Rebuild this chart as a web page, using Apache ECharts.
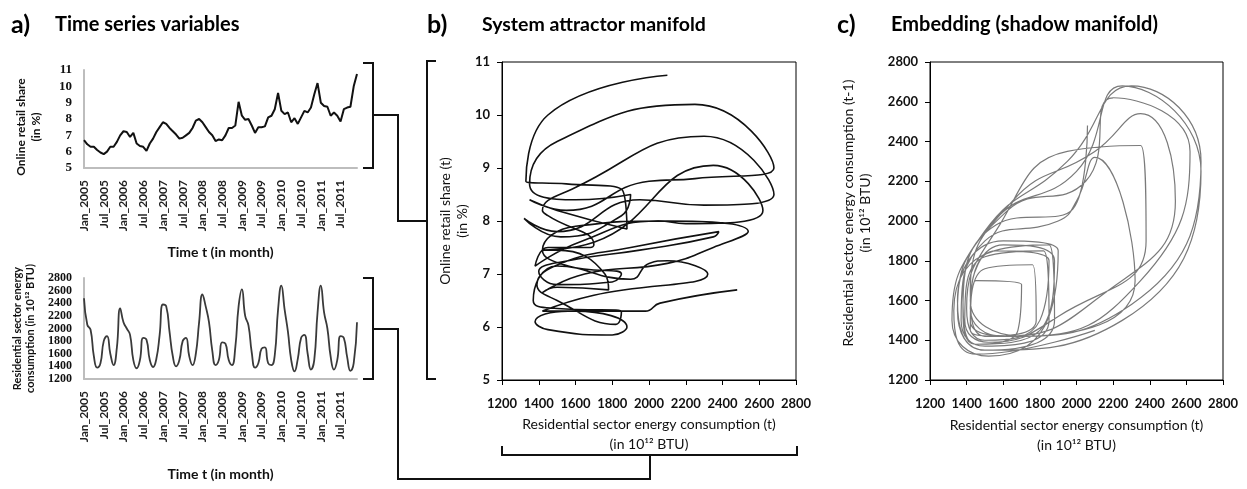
<!DOCTYPE html>
<html>
<head>
<meta charset="utf-8">
<script src="https://cdn.jsdelivr.net/npm/echarts@6/dist/echarts.min.js"></script>
<style>
  html, body { margin: 0; padding: 0; background: #fff; }
  #chart { width: 1247px; height: 489px; }
</style>
</head>
<body>
<div id="chart"></div>
<script>
// Monthly observations, Jan 2005 – Dec 2011
const years = [2005, 2006, 2007, 2008, 2009, 2010, 2011];
const monthNames = ['Jan', 'Feb', 'Mar', 'Apr', 'May', 'Jun', 'Jul', 'Aug', 'Sep', 'Oct', 'Nov', 'Dec'];
const months = years.flatMap(y => monthNames.map(m => m + '_' + y));

// Online retail share (in %)
const retailShare = [
  6.70, 6.45, 6.30, 6.30, 6.10, 5.95, 5.85, 6.00, 6.30, 6.30, 6.60, 7.00,
  7.25, 7.20, 6.90, 7.15, 6.50, 6.35, 6.30, 6.05, 6.50, 6.80, 7.20, 7.50,
  7.80, 7.70, 7.45, 7.25, 7.05, 6.80, 6.85, 7.00, 7.15, 7.45, 7.90, 8.00,
  7.80, 7.50, 7.20, 7.00, 6.65, 6.75, 6.70, 7.00, 7.45, 7.45, 7.60, 9.05,
  8.20, 7.95, 8.00, 7.60, 7.15, 7.50, 7.50, 7.55, 8.10, 8.20, 8.60, 9.60,
  8.50, 8.30, 8.40, 7.80, 8.05, 7.70, 8.10, 8.50, 8.40, 8.70, 9.50, 10.20,
  9.00, 8.80, 8.75, 8.20, 8.40, 8.20, 7.85, 8.60, 8.70, 8.75, 10.00, 10.75
];

// Residential sector energy consumption (in 10^12 BTU)
const energy = [
  2480, 2060, 1980, 1560, 1380, 1450, 1800, 1880, 1600, 1420, 1700, 2320,
  2100, 2000, 1900, 1500, 1370, 1500, 1850, 1820, 1500, 1390, 1520, 1900,
  2380, 2350, 1950, 1560, 1400, 1500, 1800, 1850, 1560, 1420, 1600, 2100,
  2540, 2350, 2100, 1650, 1420, 1500, 1780, 1760, 1500, 1420, 1700, 2350,
  2620, 2200, 2050, 1620, 1380, 1450, 1680, 1700, 1450, 1420, 1580, 2300,
  2680, 2300, 1950, 1500, 1320, 1520, 1850, 1900, 1600, 1350, 1500, 2250,
  2680, 2250, 2000, 1550, 1350, 1500, 1880, 1850, 1550, 1330, 1450, 2100
];

// Axis tick settings
const shareTicks = { min: 5, max: 11, interval: 1 };
const energyTicks = { min: 1200, max: 2800, interval: 200 };

// Derived pairs: (energy, share) and lagged (energy(t), energy(t-1))
const attractor = energy.map((e, i) => [e, retailShare[i]]);
const shadow = energy.slice(1).map((e, i) => [e, energy[i]]);

const sans = 'Lato, "Open Sans", sans-serif';
const serif = '"Liberation Serif", serif';
const plain = v => String(v);
const lightAxis = { show: true, lineStyle: { color: '#bdbdbd', width: 2 } };
const blackAxis = { show: true, lineStyle: { color: '#000', width: 1 } };
const outTicks = { show: true, inside: false, length: 5, lineStyle: { color: '#000' } };
const allLabels = { showMinLabel: true, showMaxLabel: true, hideOverlap: false };

const chart = echarts.init(document.getElementById('chart'), null, { renderer: 'canvas' });

const bracket = (points) => ({
  type: 'polyline', silent: true,
  shape: { points },
  style: { stroke: '#111', lineWidth: 2, fill: null }
});
const title = (x, y, text, size) => ({
  type: 'text', left: x, top: y, silent: true,
  style: { text, font: 'bold ' + size + 'px ' + sans, fill: '#000' }
});

chart.setOption({
  animation: false,
  backgroundColor: '#fff',
  grid: [
    { left: 84, top: 70, width: 273, height: 98 },
    { left: 84, top: 278, width: 273, height: 101 },
    { left: 502, top: 62, width: 294, height: 318, show: true, borderColor: '#000', borderWidth: 1 },
    { left: 930, top: 62, width: 293, height: 318, show: true, borderColor: '#000', borderWidth: 1 }
  ],
  xAxis: [
    {
      gridIndex: 0, type: 'category', data: months, boundaryGap: false,
      axisLine: lightAxis, axisTick: { show: false },
      axisLabel: { interval: 5, rotate: 90, margin: 12, fontFamily: sans, fontSize: 12, fontWeight: 'bold', color: '#222' },
      name: 'Time t (in month)', nameLocation: 'middle', nameGap: 77,
      nameTextStyle: { fontFamily: sans, fontSize: 14, fontWeight: 'bold', color: '#111' }
    },
    {
      gridIndex: 1, type: 'category', data: months, boundaryGap: false,
      axisLine: lightAxis, axisTick: { show: false },
      axisLabel: { interval: 5, rotate: 90, margin: 12, fontFamily: sans, fontSize: 12, fontWeight: 'bold', color: '#222' },
      name: 'Time t (in month)', nameLocation: 'middle', nameGap: 88,
      nameTextStyle: { fontFamily: sans, fontSize: 14, fontWeight: 'bold', color: '#111' }
    },
    {
      gridIndex: 2, type: 'value', ...energyTicks,
      axisLine: blackAxis, axisTick: outTicks, splitLine: { show: false },
      axisLabel: { ...allLabels, margin: 17, formatter: plain, fontFamily: sans, fontSize: 13, fontWeight: 'bold', color: '#111' },
      name: 'Residential sector energy consumption (t)\n(in 10¹² BTU)', nameLocation: 'middle', nameGap: 33,
      nameTextStyle: { fontFamily: sans, fontSize: 14, color: '#111', lineHeight: 20 }
    },
    {
      gridIndex: 3, type: 'value', ...energyTicks,
      axisLine: blackAxis, axisTick: outTicks, splitLine: { show: false },
      axisLabel: { ...allLabels, margin: 17, formatter: plain, fontFamily: sans, fontSize: 13, fontWeight: 'bold', color: '#111' },
      name: 'Residential sector energy consumption (t)\n(in 10¹² BTU)', nameLocation: 'middle', nameGap: 35,
      nameTextStyle: { fontFamily: sans, fontSize: 14, color: '#111', lineHeight: 20 }
    }
  ],
  yAxis: [
    {
      gridIndex: 0, type: 'value', ...shareTicks,
      axisLine: lightAxis, axisTick: { show: false }, splitLine: { show: false },
      axisLabel: { ...allLabels, margin: 12, fontFamily: serif, fontSize: 13, fontWeight: 'bold', color: '#111' },
      name: 'Online retail share\n(in %)', nameLocation: 'middle', nameRotate: 90, nameGap: 40,
      nameTextStyle: { fontFamily: sans, fontSize: 12, fontWeight: 'bold', color: '#111', lineHeight: 15, padding: [0, 16, 0, 0] }
    },
    {
      gridIndex: 1, type: 'value', ...energyTicks,
      axisLine: lightAxis, axisTick: { show: false }, splitLine: { show: false },
      axisLabel: { ...allLabels, margin: 12, formatter: plain, fontFamily: serif, fontSize: 12, fontWeight: 'bold', color: '#111' },
      name: 'Residential sector energy\nconsumption (in 10¹² BTU)', nameLocation: 'middle', nameRotate: 90, nameGap: 47,
      nameTextStyle: { fontFamily: sans, fontSize: 11, fontWeight: 'bold', color: '#111', lineHeight: 13 }
    },
    {
      gridIndex: 2, type: 'value', ...shareTicks,
      axisLine: blackAxis, axisTick: outTicks, splitLine: { show: false },
      axisLabel: { ...allLabels, margin: 12, fontFamily: sans, fontSize: 13, fontWeight: 'bold', color: '#111' },
      name: 'Online retail share (t)\n(in %)', nameLocation: 'middle', nameRotate: 90, nameGap: 31,
      nameTextStyle: { fontFamily: sans, fontSize: 14, color: '#111', lineHeight: 17 }
    },
    {
      gridIndex: 3, type: 'value', ...energyTicks,
      axisLine: blackAxis, axisTick: outTicks, splitLine: { show: false },
      axisLabel: { ...allLabels, margin: 12, formatter: plain, fontFamily: sans, fontSize: 13, fontWeight: 'bold', color: '#111' },
      name: 'Residential sector energy consumption (t-1)\n(in 10¹² BTU)', nameLocation: 'middle', nameRotate: 90, nameGap: 56,
      nameTextStyle: { fontFamily: sans, fontSize: 14, color: '#111', lineHeight: 17, padding: [0, 0, 0, 16] }
    }
  ],
  series: [
    {
      type: 'line', xAxisIndex: 0, yAxisIndex: 0, data: retailShare, showSymbol: false,
      lineStyle: { color: '#111', width: 2 }
    },
    {
      type: 'line', xAxisIndex: 1, yAxisIndex: 1, data: energy, showSymbol: false, smooth: true,
      lineStyle: { color: '#3a3a3a', width: 1.8 }
    },
    {
      type: 'line', xAxisIndex: 2, yAxisIndex: 2, data: attractor, showSymbol: false, smooth: 0.5,
      lineStyle: { color: '#111', width: 1.6 }
    },
    {
      type: 'line', xAxisIndex: 3, yAxisIndex: 3, data: shadow, showSymbol: false, smooth: 0.5,
      lineStyle: { color: '#7a7a7a', width: 1.2 }
    }
  ],
  graphic: [
    title(11, 12, 'a)', 25),
    title(55, 15, 'Time series variables', 20),
    title(427, 12, 'b)', 25),
    title(482, 15, 'System attractor manifold', 19.5),
    title(837, 12, 'c)', 25),
    title(891, 15, 'Embedding (shadow manifold)', 20),
    // brackets linking the time series to the attractor axes
    bracket([[363, 63], [373, 63], [373, 168], [363, 168]]),
    bracket([[373, 115], [398, 115], [398, 221], [427, 221]]),
    bracket([[436, 61], [427, 61], [427, 379], [436, 379]]),
    bracket([[363, 278], [373, 278], [373, 379], [363, 379]]),
    bracket([[373, 329], [398, 329], [398, 479], [650, 479], [650, 455]]),
    bracket([[502, 446], [502, 455], [797, 455], [797, 446]])
  ]
});
</script>
</body>
</html>
